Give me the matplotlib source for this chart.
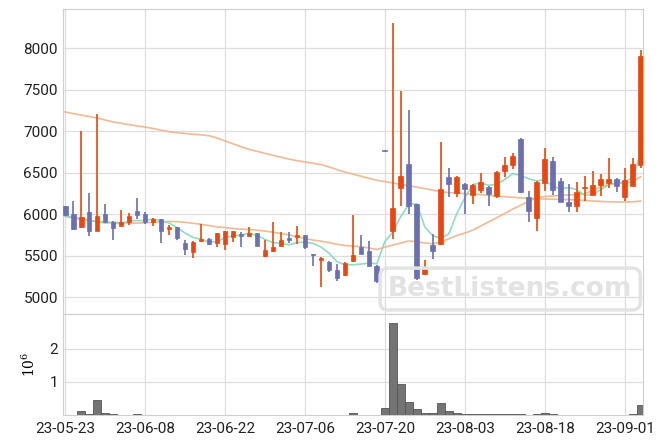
import numpy as np
import matplotlib
matplotlib.use('Agg')
import matplotlib.pyplot as plt

plt.rcParams['font.family'] = ['Liberation Sans Narrow', 'Roboto', 'DejaVu Sans']
plt.rcParams['mathtext.fontset'] = 'dejavuserif'

# 日足データ (73本)
opens = [6097, 6000, 5846, 6024, 5798, 6000, 5911, 5862, 5911, 6036,
         6000, 5903, 5943, 5820, 5844, 5660, 5541, 5676, 5709, 5656,
         5639, 5725, 5762, 5742, 5776, 5496, 5557, 5622, 5719, 5728,
         5748, 5516, 5447, 5431, 5333, 5264, 5436, 5601, 5556, 5383,
         6765, 5802, 6323, 6609, 6121, 5282, 5629, 5637, 6452, 6263,
         6371, 6239, 6299, 6331, 6227, 6528, 6592, 6910, 6211, 5962,
         6382, 6643, 6402, 6149, 6101, 6314, 6233, 6354, 6382, 6426,
         6209, 6346, 6595]
highs = [6105, 6158, 7000, 6263, 7215, 6130, 5915, 6049, 6016, 6202,
         6024, 5951, 5950, 5877, 5848, 5692, 5680, 5889, 5712, 5775,
         5800, 5800, 5787, 5844, 5780, 5687, 5902, 5793, 5793, 5858,
         5752, 5518, 5485, 5435, 5402, 5430, 5992, 5750, 5677, 5385,
         6767, 8310, 7484, 7254, 6125, 5456, 5758, 6875, 6556, 6460,
         6375, 6360, 6496, 6340, 6520, 6689, 6745, 6915, 6287, 6400,
         6804, 6691, 6442, 6362, 6386, 6458, 6523, 6482, 6675, 6440,
         6563, 6675, 7982]
lows = [5985, 5815, 5840, 5737, 5795, 5905, 5692, 5855, 5870, 5943,
        5878, 5855, 5660, 5754, 5692, 5512, 5471, 5672, 5635, 5602,
        5574, 5672, 5611, 5738, 5618, 5490, 5552, 5614, 5654, 5646,
        5581, 5378, 5126, 5305, 5199, 5258, 5430, 5520, 5375, 5177,
        6757, 5702, 6097, 6004, 5214, 5266, 5460, 5630, 6207, 6207,
        6006, 6127, 6255, 6102, 6203, 6456, 6544, 6255, 5910, 5801,
        6285, 6233, 6150, 6032, 6032, 6161, 6230, 6217, 6322, 6265,
        6161, 6340, 6555]
closes = [5992, 5822, 5968, 5798, 5976, 5911, 5838, 5911, 5976, 5992,
          5903, 5943, 5799, 5844, 5713, 5578, 5672, 5709, 5643, 5770,
          5795, 5795, 5742, 5770, 5622, 5565, 5602, 5695, 5687, 5748,
          5610, 5508, 5480, 5325, 5232, 5415, 5508, 5524, 5379, 5198,
          6760, 6081, 6464, 6097, 5234, 5359, 5561, 6306, 6371, 6452,
          6311, 6355, 6392, 6247, 6512, 6600, 6705, 6275, 6046, 6392,
          6667, 6298, 6153, 6105, 6269, 6326, 6354, 6426, 6426, 6346,
          6410, 6607, 7910]

# 出来高 (百万株)
volume = [0, 0, 0.12, 0.03, 0.45, 0.07, 0.04, 0, 0, 0.03,
          0, 0, 0, 0, 0, 0, 0, 0, 0, 0,
          0, 0, 0, 0, 0, 0, 0, 0, 0, 0,
          0, 0, 0, 0, 0, 0, 0.07, 0, 0, 0,
          0.21, 2.76, 0.92, 0.38, 0.18, 0.06, 0.06, 0.35, 0.13, 0.07,
          0.03, 0.03, 0.03, 0.03, 0.03, 0.03, 0.03, 0.03, 0, 0.02,
          0.06, 0.03, 0, 0, 0, 0, 0, 0, 0, 0,
          0, 0.02, 0.31]

# 移動平均線
ma5 = [5976, 5960, 5943, 5927, 5911, 5895, 5898, 5887, 5922, 5926,
       5924, 5945, 5923, 5896, 5840, 5775, 5721, 5703, 5663, 5674,
       5718, 5742, 5749, 5774, 5745, 5699, 5660, 5651, 5634, 5659,
       5668, 5650, 5607, 5534, 5431, 5392, 5392, 5401, 5412, 5405,
       5674, 5788, 5976, 6120, 6127, 5847, 5743, 5711, 5766, 6010,
       6200, 6359, 6376, 6351, 6363, 6421, 6491, 6468, 6428, 6404,
       6417, 6336, 6311, 6323, 6298, 6230, 6241, 6296, 6360, 6376,
       6392, 6443, 6740]
ma25 = [5978, 5960, 5945, 5925, 5915, 5910, 5905, 5898, 5895, 5895,
        5898, 5905, 5912, 5915, 5912, 5905, 5892, 5880, 5865, 5850,
        5840, 5830, 5822, 5817, 5810, 5798, 5785, 5770, 5752, 5730,
        5708, 5690, 5678, 5660, 5640, 5625, 5618, 5610, 5595, 5577,
        5605, 5630, 5655, 5680, 5670, 5655, 5645, 5670, 5705, 5745,
        5775, 5810, 5860, 5910, 5960, 6010, 6065, 6110, 6160, 6200,
        6215, 6222, 6228, 6233, 6238, 6250, 6290, 6330, 6362, 6372,
        6376, 6395, 6455]
ma75 = [7234, 7215, 7197, 7180, 7160, 7137, 7114, 7098, 7082, 7066,
        7052, 7035, 7015, 6996, 6985, 6975, 6966, 6958, 6948, 6920,
        6885, 6850, 6815, 6785, 6760, 6735, 6712, 6690, 6665, 6648,
        6632, 6616, 6600, 6572, 6540, 6510, 6485, 6460, 6435, 6412,
        6395, 6378, 6360, 6345, 6328, 6310, 6292, 6273, 6262, 6256,
        6250, 6245, 6238, 6228, 6220, 6213, 6206, 6199, 6193, 6189,
        6185, 6182, 6180, 6177, 6173, 6168, 6162, 6156, 6152, 6150,
        6149, 6152, 6160]

tick_pos = [0, 10, 20, 30, 40, 50, 60, 70]
tick_labels = ['23-05-23', '23-06-08', '23-06-22', '23-07-06',
               '23-07-20', '23-08-03', '23-08-18', '23-09-01']

up_color = '#e8480f'
down_color = '#6b70b0'
grid_color = '#dedede'

o = np.array(opens, dtype=float)
h = np.array(highs, dtype=float)
l = np.array(lows, dtype=float)
c = np.array(closes, dtype=float)
x = np.arange(len(o))
cols = [up_color if cc >= oo else down_color for oo, cc in zip(o, c)]

fig = plt.figure(figsize=(6.63, 4.44), dpi=100)
ax1 = fig.add_axes([0.0946, 0.292, 0.8754, 0.687])
ax2 = fig.add_axes([0.0946, 0.0653, 0.8754, 0.2267], sharex=ax1)

for ax in (ax1, ax2):
    ax.set_axisbelow(True)
    ax.grid(True, color=grid_color, linewidth=0.9)
    for s in ax.spines.values():
        s.set_color('#cfcfcf')
        s.set_linewidth(0.8)
    ax.tick_params(length=0, colors='#222222', labelsize=11)

# 移動平均
ax1.plot(x, ma75, color='#f0ae82', lw=1.2, alpha=0.85, zorder=2)
ax1.plot(x, ma25, color='#f0ae82', lw=1.2, alpha=0.85, zorder=2)
ax1.plot(x, ma5, color='#8fd8c0', lw=1.2, alpha=0.95, zorder=2)

# ローソク足
ax1.vlines(x, l, h, colors=cols, linewidth=1.2, zorder=3)
body_h = np.maximum(np.abs(c - o), 12)
ax1.bar(x, body_h, bottom=np.minimum(o, c), width=0.6, color=cols,
        edgecolor=cols, linewidth=0.5, zorder=4)

ax1.set_ylim(4795, 8471)
ax1.set_yticks([5000, 5500, 6000, 6500, 7000, 7500, 8000])
ax1.tick_params(axis='x', labelbottom=False)
ax1.set_xlim(-0.3, 72.3)

ax1.text(0.771, 0.083, 'BestListens.com', transform=ax1.transAxes,
         ha='center', va='center', fontsize=19, fontweight='bold',
         family=['DejaVu Sans'], color='#e3e3e3', zorder=5,
         bbox=dict(boxstyle='round,pad=0.3', fc='none', ec='#e3e3e3', lw=2.5))

# 出来高
ax2.bar(x, volume, width=1.0, color='#747474', edgecolor='#555555',
        linewidth=0.6, zorder=3)
ax2.set_ylim(0, 3.03)
ax2.set_yticks([1, 2])
ax2.set_xticks(tick_pos)
ax2.set_xticklabels(tick_labels)
ax2.tick_params(axis='x', pad=5)
ax2.set_ylabel(r'$10^6$', fontsize=10, labelpad=8)

fig.savefig('out.png', dpi=100)
